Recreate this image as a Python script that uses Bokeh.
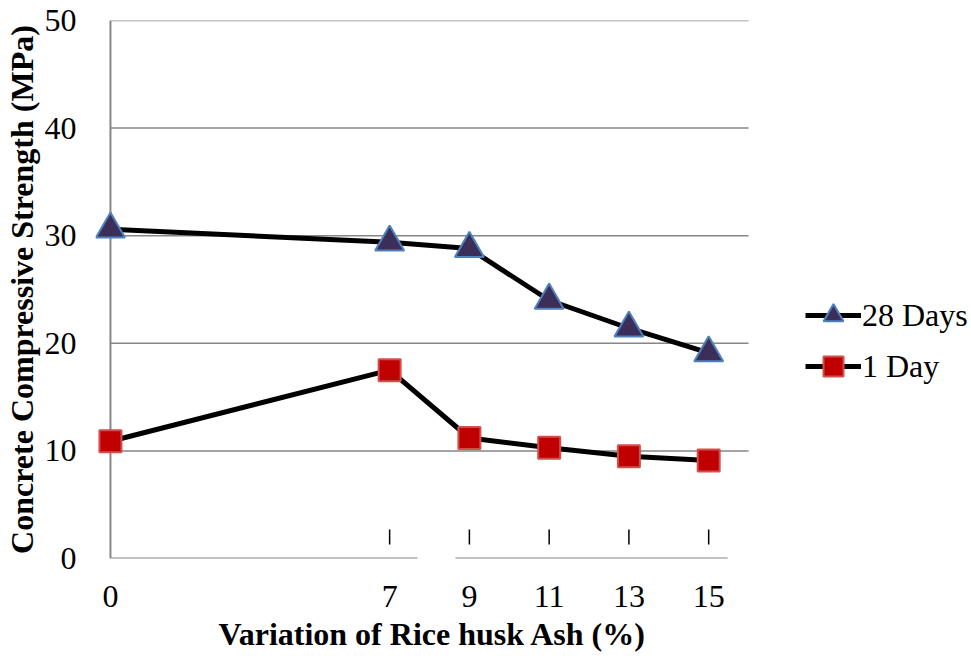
from bokeh.plotting import figure
from bokeh.models import Legend, LegendItem, Range1d, FixedTicker, Title
from bokeh.embed import file_html
from bokeh.resources import INLINE

rha_pct = [0, 7, 9, 11, 13, 15]
days28 = [30.6, 29.4, 28.8, 24.0, 21.4, 19.1]
day1 = [10.9, 17.5, 11.2, 10.3, 9.5, 9.1]
x_ticks = [0, 7, 9, 11, 13, 15]
y_ticks = [0, 10, 20, 30, 40, 50]
x_max = 16
# visible pieces of the broken x axis line, and the stray tick marks above it
x_axis_pieces_start = [0, 8.65]
x_axis_pieces_end = [7.7, 15.475]
stray_tick_bottom, stray_tick_top = 1.3, 2.7

FONT = "Liberation Serif"
GRID = "#868686"

# frame runs to the right edge of the page so that the legend (inside it) is not clipped;
# the plotted area itself ends at x_max
p = figure(width=971, height=656, output_backend="svg", toolbar_location=None,
           x_range=Range1d(-0.375, 21.59), y_range=Range1d(0, 50),
           min_border_left=95, min_border_right=0, min_border_top=20, min_border_bottom=98)
p.outline_line_color = None
p.background_fill_color = "white"
p.xgrid.grid_line_color = None
p.ygrid.grid_line_color = None

p.xaxis.ticker = FixedTicker(ticks=x_ticks)
p.yaxis.ticker = FixedTicker(ticks=y_ticks)
for ax in (p.xaxis[0], p.yaxis[0]):
    ax.major_tick_line_color = None
    ax.minor_tick_line_color = None
    ax.axis_line_color = None
    ax.major_label_text_font = FONT
    ax.major_label_text_font_size = "32px"
    ax.major_label_text_color = "black"
    ax.axis_label_text_font = FONT
    ax.axis_label_text_font_style = "bold"
    ax.axis_label_text_font_size = "32px"
    ax.axis_label_text_color = "black"

p.yaxis.axis_label = "Concrete Compressive Strength (MPa)"
p.xaxis.major_label_standoff = 21
p.yaxis.major_label_standoff = 13
p.yaxis.axis_label_standoff = 2

# x axis title, centred under the plotted area (not the whole frame)
xtitle = Title(text="Variation of Rice husk Ash (%)", align="left", offset=123,
               text_font=FONT, text_font_style="bold", text_font_size="32px",
               text_color="black", standoff=8)
p.add_layout(xtitle, "below")

# gridlines (from x = 0 to x_max)
p.segment(x0=[0] * (len(y_ticks) - 1), x1=[x_max] * (len(y_ticks) - 1),
          y0=y_ticks[1:], y1=y_ticks[1:], line_color=GRID, line_width=1.5)
# y axis line at x = 0
p.segment(x0=[0], x1=[0], y0=[y_ticks[0]], y1=[y_ticks[-1]], line_color=GRID, line_width=2)
# broken x axis line
p.segment(x0=x_axis_pieces_start, x1=x_axis_pieces_end, y0=[0, 0], y1=[0, 0],
          line_color=GRID, line_width=2)
# stray tick marks
p.segment(x0=x_ticks[1:], x1=x_ticks[1:], y0=[stray_tick_bottom] * 5, y1=[stray_tick_top] * 5,
          line_color="black", line_width=1.5)

l28 = p.line(rha_pct, days28, line_color="black", line_width=5)
m28 = p.scatter(rha_pct, days28, marker="triangle", size=29, fill_color="#3B2F5A",
                line_color="#4F81BD", line_width=2)
l1 = p.line(rha_pct, day1, line_color="black", line_width=5)
m1 = p.scatter(rha_pct, day1, marker="square", size=22, fill_color="#C00000",
               line_color="#D0504D", line_width=2)

legend = Legend(items=[LegendItem(label="28 Days", renderers=[l28, m28]),
                       LegendItem(label="1 Day", renderers=[l1, m1])],
                location=(710, 167), orientation="vertical")
legend.border_line_color = None
legend.background_fill_alpha = 0
legend.padding = 0
legend.margin = 0
legend.spacing = 1
legend.glyph_width = 56
legend.glyph_height = 50
legend.label_height = 50
legend.label_standoff = 1
legend.label_text_font = FONT
legend.label_text_font_size = "32px"
legend.label_text_color = "black"
p.add_layout(legend, "center")

open("out.html", "w").write(file_html(p, INLINE))
